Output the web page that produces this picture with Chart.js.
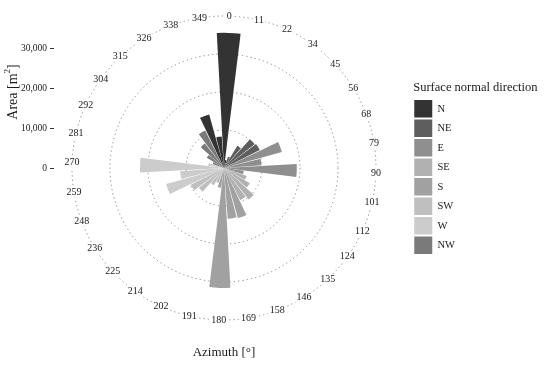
<!DOCTYPE html>
<html>
<head>
<meta charset="utf-8">
<script src="https://cdn.jsdelivr.net/npm/chart.js@4"></script>
<style>
  html, body { margin: 0; padding: 0; background: #fff; }
  #wrap { width: 550px; height: 368px; }
</style>
</head>
<body>
<div id="wrap"><canvas id="rose"></canvas></div>
<script>
// azimuth bins (bin centres, degrees)
const azimuthLabels = ['0', '11', '22', '34', '45', '56', '68', '79', '90', '101', '112', '124',
  '135', '146', '158', '169', '180', '191', '202', '214', '225', '236', '248', '259',
  '270', '281', '292', '304', '315', '326', '338', '349'];

// roof area per azimuth bin [m2]
const areaValues = [33800, 2000, 3000, 6500, 9700, 10000, 15000, 9400, 18200, 5000, 6000, 7500,
  10000, 9000, 13000, 12700, 30000, 5000, 4000, 5000, 8000, 9300, 15000, 11000,
  21000, 4000, 3000, 5000, 7800, 10500, 13900, 7900];

const binDirection = ['N', 'N', 'NE', 'NE', 'NE', 'NE', 'E', 'E', 'E', 'E', 'SE', 'SE',
  'SE', 'SE', 'S', 'S', 'S', 'S', 'SW', 'SW', 'SW', 'SW', 'W', 'W',
  'W', 'W', 'NW', 'NW', 'NW', 'NW', 'N', 'N'];

const directions = ['N', 'NE', 'E', 'SE', 'S', 'SW', 'W', 'NW'];
const directionColors = ['#333333', '#5e5e5e', '#8f8f8f', '#b1b1b1', '#a1a1a1', '#bfbfbf', '#cccccc', '#7a7a7a'];

const areaTicks = [0, 10000, 20000, 30000];
const areaTickLabels = ['0', '10,000', '20,000', '30,000'];

const serif = '"Liberation Serif", serif';
const textColor = '#1a1a1a';

// bars are 90% of a bin wide, plus labels and axis titles around the rose
const roseDecor = {
  id: 'roseDecor',
  afterDatasetsUpdate(chart) {
    const gap = (360 / azimuthLabels.length) * 0.05 * Math.PI / 180;
    chart.getDatasetMeta(0).data.forEach(arc => {
      arc.startAngle += gap;
      arc.endAngle -= gap;
    });
  },
  afterDraw(chart) {
    const scale = chart.scales.r;
    const ctx = chart.ctx;
    const cx = scale.xCenter;
    const cy = scale.yCenter;
    const half = Math.PI / azimuthLabels.length;
    const outer = scale.getDistanceFromCenterForValue(scale.max);

    ctx.save();
    ctx.textBaseline = 'middle';
    ctx.textAlign = 'center';
    ctx.font = '10px ' + serif;
    azimuthLabels.forEach((lab, i) => {
      const a = scale.getIndexAngle(i) + half - Math.PI / 2;
      const x = cx + Math.cos(a) * outer;
      const y = cy + Math.sin(a) * outer;
      const w = ctx.measureText(lab).width;
      ctx.fillStyle = '#fff';
      ctx.fillRect(x - w / 2 - 1.5, y - 5, w + 3, 10);
      ctx.fillStyle = textColor;
      ctx.fillText(lab, x, y);
    });

    // radial axis on the left
    ctx.textAlign = 'right';
    ctx.font = '9.5px ' + serif;
    ctx.strokeStyle = '#333';
    ctx.lineWidth = 1;
    areaTicks.forEach((v, i) => {
      const y = cy - scale.getDistanceFromCenterForValue(v);
      ctx.fillText(areaTickLabels[i], 47, y);
      ctx.beginPath();
      ctx.moveTo(50, Math.round(y) + 0.5);
      ctx.lineTo(54, Math.round(y) + 0.5);
      ctx.stroke();
    });

    ctx.font = '13px ' + serif;
    ctx.textAlign = 'center';
    ctx.fillText('Azimuth [°]', cx, 353);

    // legend title (the legend box itself is too narrow for it)
    const firstKey = chart.legend.legendHitBoxes[0];
    ctx.textAlign = 'left';
    ctx.font = '12.5px ' + serif;
    ctx.fillText('Surface normal direction', firstKey.left - 1, 88);

    ctx.save();
    ctx.translate(13, (cy + cy - outer) / 2);
    ctx.rotate(-Math.PI / 2);
    ctx.font = '14px ' + serif;
    const w1 = ctx.measureText('Area [m').width;
    ctx.font = '9px ' + serif;
    const w2 = ctx.measureText('2').width;
    ctx.font = '14px ' + serif;
    const w3 = ctx.measureText(']').width;
    let x0 = -(w1 + w2 + w3) / 2;
    ctx.textAlign = 'left';
    ctx.fillText('Area [m', x0, 0);
    ctx.font = '9px ' + serif;
    ctx.fillText('2', x0 + w1, -5);
    ctx.font = '14px ' + serif;
    ctx.fillText(']', x0 + w1 + w2, 0);
    ctx.restore();
    ctx.restore();
  }
};

new Chart(document.getElementById('rose'), {
  type: 'polarArea',
  data: {
    labels: azimuthLabels,
    datasets: [{
      label: 'Area',
      data: areaValues,
      backgroundColor: binDirection.map(d => directionColors[directions.indexOf(d)]),
      borderWidth: 0
    }]
  },
  options: {
    responsive: true,
    maintainAspectRatio: false,
    animation: false,
    layout: { padding: { left: 36, right: 85, top: 16, bottom: 48 } },
    scales: {
      r: {
        min: 0,
        max: 38000,
        startAngle: 2 - 5.625,
        ticks: { display: false, stepSize: 10000 },
        grid: { circular: true, color: '#8a8a8a', lineWidth: 1 },
        border: { dash: [1.3, 3] },
        angleLines: { display: false },
        pointLabels: { display: false }
      }
    },
    plugins: {
      tooltip: { enabled: false },
      legend: {
        position: 'right',
        align: 'start',
        title: {
          display: true,
          text: ' ',
          position: 'start',
          font: { family: serif, size: 12.5 },
          padding: { top: 64, bottom: 3 }
        },
        labels: {
          boxWidth: 18,
          boxHeight: 17.5,
          padding: 2,
          color: textColor,
          font: { family: serif, size: 10.5 },
          generateLabels: () => directions.map((d, i) => ({
            text: d,
            fillStyle: directionColors[i],
            strokeStyle: directionColors[i],
            fontColor: textColor,
            lineWidth: 0,
            hidden: false,
            index: i
          }))
        }
      }
    }
  },
  plugins: [roseDecor]
});
</script>
</body>
</html>
